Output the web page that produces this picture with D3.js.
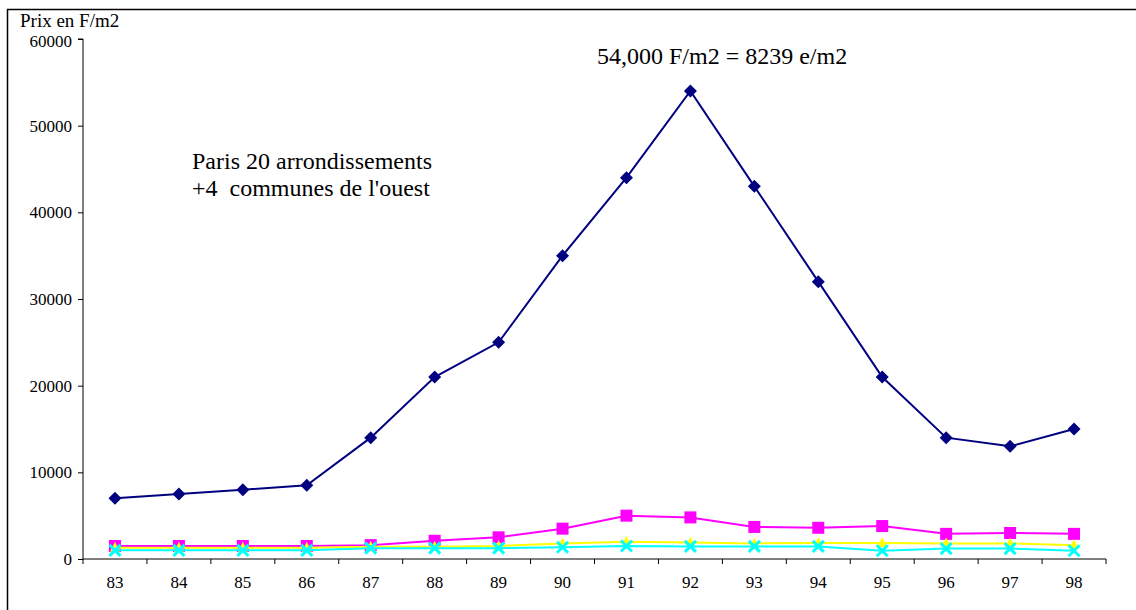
<!DOCTYPE html>
<html><head><meta charset="utf-8">
<script src="https://cdn.jsdelivr.net/npm/d3@7"></script>
<style>body{margin:0;background:#fff}svg{display:block}text{font-family:"Liberation Serif","Times New Roman",serif}</style>
</head><body><svg id="c" width="1136" height="610"></svg>
<script>
const years = ["83","84","85","86","87","88","89","90","91","92","93","94","95","96","97","98"];
const parisValues = [7000,7500,8000,8500,14000,21000,25000,35000,44000,54000,43000,32000,21000,14000,13000,15000];
const magentaValues = [1500,1500,1500,1500,1600,2100,2500,3500,5000,4800,3700,3600,3800,2900,3000,2900];
const yellowValues = [1300,1300,1300,1300,1400,1400,1500,1800,2000,1900,1800,1850,1850,1800,1800,1600];
const cyanValues = [1000,1000,1000,1000,1250,1250,1250,1350,1500,1450,1450,1450,950,1200,1200,950];
const yTicks = [0,10000,20000,30000,40000,50000,60000];
const annotationTop = "54,000 F/m2 = 8239 e/m2";
const annotationLines = ["Paris 20 arrondissements", "+4  communes de l'ouest"];
const yTitle = "Prix en F/m2";

const svg = d3.select("#c");
svg.append("rect").attr("x",7.5).attr("y",9.5).attr("width",1140).attr("height",620)
  .attr("fill","none").attr("stroke","#000").attr("stroke-width",1.5);

const x = d3.scaleBand().domain(years).range([83,1106]);
const y = d3.scaleLinear().domain([0,60000]).range([559,39]);

const ya = svg.append("g").attr("transform","translate(83,0)")
  .call(d3.axisLeft(y).tickValues(yTicks).tickSize(5).tickPadding(6).tickFormat(d3.format("d")));
ya.attr("font-family",null);
ya.selectAll("path,line").attr("stroke","#000");
ya.selectAll("text").attr("font-size",17).attr("fill","#000").attr("dy",d=>d===60000?"0.42em":"0.33em");
ya.select(".domain").attr("d","M0,"+y(0)+"V"+y(60000)+"M-5,"+y(60000)+"H0");

const xa = svg.append("g").attr("transform","translate(0,"+y(0)+")");
xa.append("line").attr("x1",83).attr("x2",1106).attr("y1",0).attr("y2",0).attr("stroke","#000");
const edges = years.map(d=>x(d)).concat([x.range()[1]]);
xa.selectAll("line.t").data(edges).enter().append("line").attr("class","t")
  .attr("x1",d=>d).attr("x2",d=>d).attr("y1",0).attr("y2",5).attr("stroke","#000");
xa.selectAll("text").data(years).enter().append("text")
  .attr("x",d=>x(d)+x.bandwidth()/2).attr("y",29).attr("text-anchor","middle")
  .attr("font-size",17).text(d=>d);

const cx = d => x(d)+x.bandwidth()/2;
const line = d3.line().x((v,i)=>cx(years[i])).y(v=>y(v));

function series(vals,color,shape){
  svg.append("path").datum(vals).attr("d",line).attr("fill","none").attr("stroke",color).attr("stroke-width",2);
  const g = svg.append("g");
  vals.forEach((v,i)=>{
    const px=cx(years[i]), py=y(v);
    if(shape==="diamond"){
      g.append("path").attr("d",`M${px},${py-6.5}L${px+6.5},${py}L${px},${py+6.5}L${px-6.5},${py}Z`).attr("fill",color);
    } else if(shape==="square"){
      g.append("rect").attr("x",px-6).attr("y",py-6).attr("width",12).attr("height",12).attr("fill",color);
    } else if(shape==="triangle"){
      g.append("path").attr("d",`M${px},${py-6}L${px+5},${py+4}L${px-5},${py+4}Z`).attr("fill",color);
    } else if(shape==="x"){
      g.append("path").attr("d",`M${px-5.5},${py-5.5}L${px+5.5},${py+5.5}M${px+5.5},${py-5.5}L${px-5.5},${py+5.5}`)
        .attr("stroke",color).attr("stroke-width",3);
    }
  });
}
series(parisValues,"#000080","diamond");
series(magentaValues,"#ff00ff","square");
series(yellowValues,"#ffff00","triangle");
series(cyanValues,"#00ffff","x");

svg.append("text").attr("x",20).attr("y",27).attr("font-size",19).text(yTitle);
svg.append("text").attr("x",597).attr("y",64).attr("font-size",24).text(annotationTop);
annotationLines.forEach((t,i)=>svg.append("text").attr("x",192).attr("y",169+i*27)
  .attr("font-size",24).style("white-space","pre").text(t));
</script></body></html>
